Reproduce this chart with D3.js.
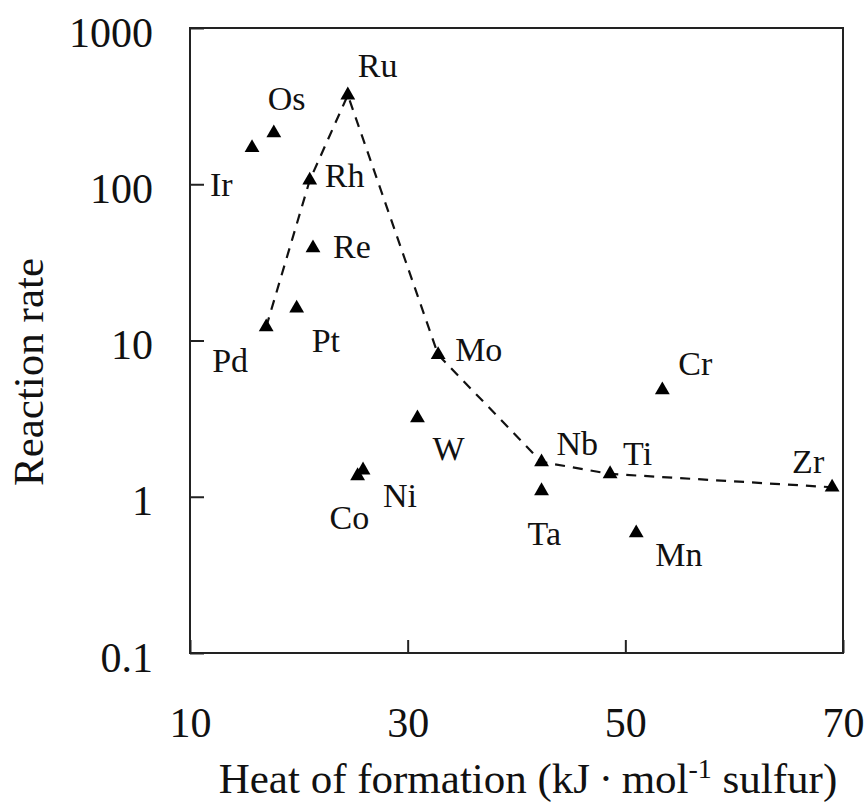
<!DOCTYPE html>
<html>
<head>
<meta charset="utf-8">
<script src="https://cdn.jsdelivr.net/npm/d3@7"></script>
<style>
	body { margin: 0; background: #fff; }
	svg text { font-family: "Liberation Serif", Tinos, "Times New Roman", "Nimbus Roman", "DejaVu Serif", serif; fill: #111; }
</style>
</head>
<body>
<svg id="chart" width="866" height="804"></svg>
<script>
// metals and their values
var elements = ["Ir", "Os", "Ru", "Rh", "Re", "Pt", "Pd", "Mo", "W", "Nb", "Ta", "Ti", "Cr", "Mn", "Zr", "Co", "Ni"];
var heatOfFormation = [15.7, 17.7, 24.5, 21.0, 21.3, 19.8, 17.0, 32.8, 30.9, 42.3, 42.3, 48.6, 53.4, 51.0, 69.0, 25.4, 25.9];
var reactionRate = [171, 213, 372, 106, 39.1, 16.1, 12.2, 8.1, 3.19, 1.67, 1.09, 1.40, 4.82, 0.586, 1.15, 1.36, 1.48];

// metals joined by the dashed trend line
var trendElements = ["Pd", "Rh", "Ru", "Mo", "Nb", "Ti", "Zr"];

var xTicks = [10, 30, 50, 70];
var yTicks = [0.1, 1, 10, 100, 1000];

// where each label sits relative to its marker (dx, dy of text start/baseline)
var labelOffset = {
	Ir: [-42, 48], Os: [-6, -23], Ru: [10, -18], Rh: [15, 7], Re: [20, 10],
	Pt: [15, 44], Pd: [-54, 45], Mo: [17, 6], W: [15, 42], Nb: [15, -7],
	Ta: [-14, 54], Ti: [13, -9], Cr: [16, -15], Mn: [19, 33], Zr: [-40, -14],
	Co: [-28, 53], Ni: [20, 37]
};

var points = elements.map(function(name, i) {
	return {name: name, x: heatOfFormation[i], y: reactionRate[i]};
});
var byName = {};
points.forEach(function(p) { byName[p.name] = p; });

var plot = {left: 190, top: 28, right: 843, bottom: 653};

var svg = d3.select("#chart");

var x = d3.scaleLinear().domain([10, 70]).range([plot.left, plot.right]);
var y = d3.scaleLog().domain([0.1, 1000]).range([plot.bottom, plot.top]);

// y axis, ticks pointing inward
var yAxis = svg.append("g")
	.attr("transform", "translate(" + plot.left + ",0)")
	.call(d3.axisLeft(y).tickValues(yTicks).tickFormat(function(d) { return d3.format("~g")(d); })
		.tickSize(-14).tickSizeOuter(0).tickPadding(37));

// x axis
var xAxis = svg.append("g")
	.attr("transform", "translate(0," + plot.bottom + ")")
	.call(d3.axisBottom(x).tickValues(xTicks).tickFormat(d3.format("d"))
		.tickSize(-13).tickSizeOuter(0).tickPadding(54));

// d3 axis sets its own font-family on the group, drop it so the css applies
yAxis.attr("font-family", null).attr("font-size", null);
xAxis.attr("font-family", null).attr("font-size", null);

svg.selectAll(".domain").remove();
svg.selectAll(".tick line").attr("stroke", "#222").attr("stroke-width", 2);
svg.selectAll(".tick text").attr("font-size", 42).attr("fill", "#111");
yAxis.selectAll(".tick text").attr("dy", "0.43em");

// plot frame
svg.append("rect")
	.attr("x", plot.left).attr("y", plot.top)
	.attr("width", plot.right - plot.left).attr("height", plot.bottom - plot.top)
	.attr("fill", "none").attr("stroke", "#222").attr("stroke-width", 2);

// dashed trend line
var line = d3.line()
	.x(function(d) { return x(d.x); })
	.y(function(d) { return y(d.y); });

svg.append("path")
	.datum(trendElements.map(function(n) { return byName[n]; }))
	.attr("d", line)
	.attr("fill", "none")
	.attr("stroke", "#111")
	.attr("stroke-width", 2.2)
	.attr("stroke-dasharray", "10,8");

// triangle markers
svg.selectAll(".marker")
	.data(points)
	.enter()
	.append("path")
	.attr("class", "marker")
	.attr("d", d3.symbol().type(d3.symbolTriangle).size(95))
	.attr("transform", function(d) { return "translate(" + x(d.x) + "," + y(d.y) + ")"; })
	.attr("fill", "#000");

// element labels
svg.selectAll(".lbl")
	.data(points)
	.enter()
	.append("text")
	.attr("class", "lbl")
	.attr("x", function(d) { return x(d.x) + labelOffset[d.name][0]; })
	.attr("y", function(d) { return y(d.y) + labelOffset[d.name][1]; })
	.attr("font-size", 34)
	.text(function(d) { return d.name; });

// axis titles
var xt = svg.append("text")
	.attr("x", 528).attr("y", 793)
	.attr("text-anchor", "middle")
	.attr("font-size", 43);
xt.append("tspan").text("Heat of formation (kJ\u2009\u00b7\u2009mol");
xt.append("tspan").attr("font-size", 28).attr("dy", -15).text("-1");
xt.append("tspan").attr("dy", 15).text(" sulfur)");

svg.append("text")
	.attr("transform", "translate(43,372) rotate(-90)")
	.attr("text-anchor", "middle")
	.attr("font-size", 43)
	.text("Reaction rate");
</script>
</body>
</html>
